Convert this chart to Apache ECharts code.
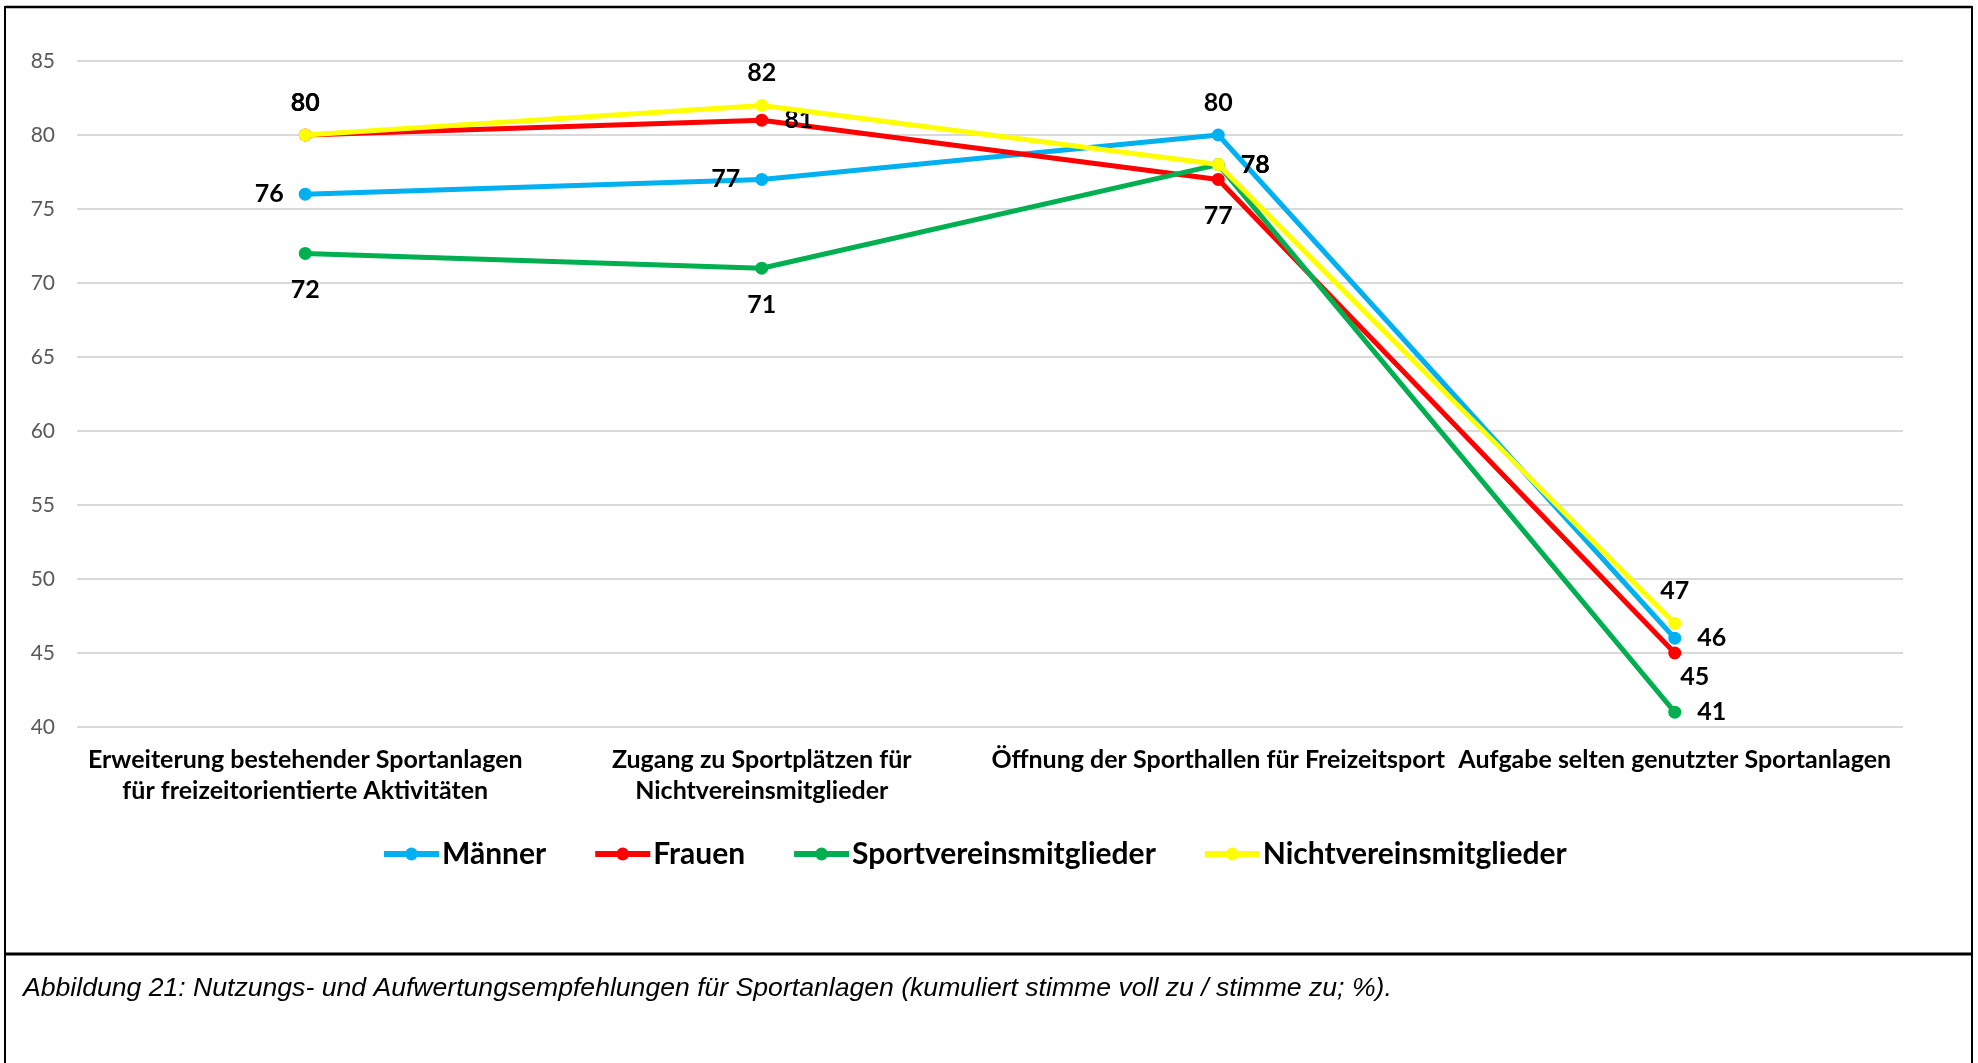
<!DOCTYPE html>
<html>
<head>
<meta charset="utf-8">
<script src="https://cdn.jsdelivr.net/npm/echarts@6/dist/echarts.min.js"></script>
<style>
html,body{margin:0;padding:0;background:#fff;}
#chart{width:1978px;height:1063px;}
</style>
</head>
<body>
<div id="chart"></div>
<script>
// ---- data ----
const categories = [
  "Erweiterung bestehender Sportanlagen\nfür freizeitorientierte Aktivitäten",
  "Zugang zu Sportplätzen für\nNichtvereinsmitglieder",
  "Öffnung der Sporthallen für Freizeitsport",
  "Aufgabe selten genutzter Sportanlagen"
];
const seriesNames = ["Männer", "Frauen", "Sportvereinsmitglieder", "Nichtvereinsmitglieder"];
const maenner = [76, 77, 80, 46];
const frauen = [80, 81, 77, 45];
const sportverein = [72, 71, 78, 41];
const nichtverein = [80, 82, 78, 47];
const yTicks = { min: 40, max: 85, interval: 5 };
const caption = "Abbildung 21: Nutzungs- und Aufwertungsempfehlungen für Sportanlagen (kumuliert stimme voll zu / stimme zu; %).";

// ---- styles ----
const colors = ["#00B0F0", "#FF0000", "#00B050", "#FFFF00"];
const labelPlacement = [
  [["left", 15], ["left", 15], ["top", 13], ["right", 16]],
  [["top", 13], ["right", 16], ["bottom", 18], ["inside", 0, [20, 24]]],
  [["bottom", 18], ["bottom", 18], ["right", 16], ["right", 16]],
  [["top", 13], ["top", 13], ["right", 16], ["top", 13]]
];
const FONT = "Lato, 'Open Sans', 'Noto Sans', sans-serif";

const allValues = [maenner, frauen, sportverein, nichtverein];

const chart = echarts.init(document.getElementById('chart'), null, { renderer: 'canvas' });

const series = allValues.map((vals, si) => ({
  name: seriesNames[si],
  type: 'line',
  data: vals.map((v, i) => {
    const p = labelPlacement[si][i];
    const lbl = { position: p[0], distance: p[1] };
    if (p[2]) lbl.offset = p[2];
    return { value: v, label: lbl };
  }),
  symbol: 'circle',
  symbolSize: 13,
  lineStyle: { width: 5, color: colors[si] },
  itemStyle: { color: colors[si] },
  label: {
    show: true,
    color: '#000',
    fontFamily: FONT,
    fontWeight: 'bold',
    fontSize: 25
  },
  z: 2 + si
}));

chart.setOption({
  animation: false,
  backgroundColor: '#fff',
  grid: { left: 77, right: 75, top: 61, bottom: 336, containLabel: false },
  xAxis: {
    type: 'category',
    data: categories,
    boundaryGap: true,
    axisLine: { show: false },
    axisTick: { show: false },
    axisLabel: {
      interval: 0,
      margin: 17,
      color: '#000',
      fontFamily: FONT,
      fontWeight: 'bold',
      fontSize: 25,
      lineHeight: 31
    }
  },
  yAxis: {
    type: 'value',
    min: yTicks.min,
    max: yTicks.max,
    interval: yTicks.interval,
    axisLine: { show: false },
    axisTick: { show: false },
    splitLine: { lineStyle: { color: '#d9d9d9', width: 2 } },
    axisLabel: {
      margin: 22,
      color: '#595959',
      fontFamily: FONT,
      fontSize: 21
    }
  },
  legend: {
    data: seriesNames,
    left: 376,
    top: 834,
    itemWidth: 55,
    itemHeight: 16,
    itemGap: 46,
    lineStyle: { width: 6 },
    textStyle: {
      color: '#000',
      fontFamily: FONT,
      fontWeight: 'bold',
      fontSize: 30,
      padding: [0, 0, 0, -2]
    }
  },
  series: series,
  graphic: [
    { type: 'line', shape: { x1: 5, y1: 7, x2: 1972, y2: 7 }, style: { stroke: '#000', lineWidth: 2.5 } },
    { type: 'line', shape: { x1: 5, y1: 6, x2: 5, y2: 1063 }, style: { stroke: '#000', lineWidth: 2 } },
    { type: 'line', shape: { x1: 1972, y1: 6, x2: 1972, y2: 1063 }, style: { stroke: '#000', lineWidth: 2 } },
    { type: 'line', shape: { x1: 5, y1: 954, x2: 1972, y2: 954 }, style: { stroke: '#000', lineWidth: 3 } },
    {
      type: 'text',
      left: 23,
      top: 975,
      style: {
        text: caption,
        fill: '#000',
        font: "italic 26.6px 'Liberation Sans', Arial, sans-serif"
      }
    }
  ]
});
</script>
</body>
</html>
